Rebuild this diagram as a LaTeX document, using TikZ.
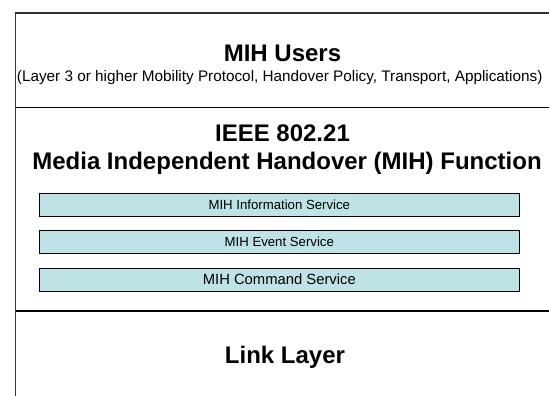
\documentclass[tikz,border=0pt]{standalone}
\usepackage{fontspec}
\setmainfont{Liberation Sans}
\definecolor{svcfill}{RGB}{190,226,229}
\definecolor{frameline}{RGB}{50,50,50}
\begin{document}
\begin{tikzpicture}[x=1pt,y=-1pt,
  title/.style={font=\fontsize{24}{28}\selectfont\bfseries, inner sep=0pt, text height=17.2pt, text depth=0pt, anchor=center},
  sub/.style={font=\fontsize{15.3}{18}\selectfont, inner sep=0pt, text height=10.95pt, text depth=0pt, anchor=center},
  svc/.style={draw=black, line width=0.9pt, fill=svcfill, minimum width=480pt, minimum height=22.7pt, inner sep=0pt, text depth=0pt, anchor=center},
  sep/.style={draw=black, line width=1.4pt},
  edge/.style={draw=frameline, line width=1.8pt}]
\useasboundingbox (0,0) rectangle (549,396);
% frame
\coordinate (tl) at (15.5,12.7);
\coordinate (tr) at (549,12.7);
\coordinate (bl) at (15.5,396);
\draw[edge] (tr) -- (tl) -- (bl);
\coordinate (s1l) at (15.5,107.3);
\coordinate (s1r) at (549,107.3);
\coordinate (s2l) at (15.5,311);
\coordinate (s2r) at (549,311);
\draw[sep] (s1l) -- (s1r);
\draw[sep] (s2l) -- (s2r);
% texts
\node[title] (users) at (282.5,53) {MIH Users};
\node[sub] (userssub) at (279.7,76) {(Layer 3 or higher Mobility Protocol, Handover Policy, Transport, Applications)};
\node[title] (ieee) at (282.5,133) {IEEE 802.21};
\node[title] (mihf) at (287,160.5) {Media Independent Handover (MIH) Function};
\node[svc, font=\fontsize{13.2}{16}\selectfont, text height=9.45pt] (is) at (279.3,204.7) {MIH Information Service};
\node[svc, font=\fontsize{13.2}{16}\selectfont, text height=9.45pt] (es) at (279.3,242) {MIH Event Service};
\node[svc, font=\fontsize{14.8}{18}\selectfont, text height=10.6pt] (cs) at (279.3,279.6) {MIH Command Service};
\node[title] (link) at (285,355) {Link Layer};
\end{tikzpicture}
\end{document}
